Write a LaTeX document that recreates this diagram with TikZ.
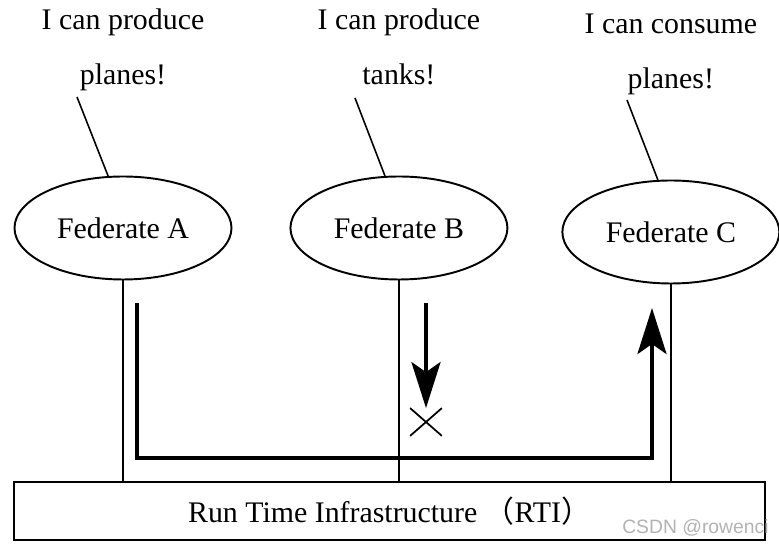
\documentclass[tikz,border=0pt]{standalone}
\usepackage{fontspec}
\setmainfont{Liberation Serif}
\newfontfamily\cjkfont{Noto Sans CJK SC}
\newfontfamily\markfont{Liberation Sans}
\usepackage{tikz}
\usetikzlibrary{positioning,shapes.geometric,shapes.misc,arrows.meta}

\begin{document}
\begin{tikzpicture}[
    >={Stealth[length=0.92cm,width=0.58cm,inset=0.2cm]},
    every node/.style={font=\fontsize{17}{31}\selectfont, align=center},
    fed/.style={draw, ellipse, line width=1.1pt, minimum width=4.34cm,
minimum height=2.06cm, inner sep=0pt},
    talk/.style={inner sep=2pt, text depth=3.7pt, node distance=1.62},
    link/.style={draw, line width=0.9pt},
    flow/.style={draw, line width=2.3pt}]

    \useasboundingbox (0,0) rectangle (15.58,11);

    \node[fed] (fedA) at (2.46,6.44) {Federate A};
    \node[fed, right=1.14 of fedA] (fedB) {Federate B};
    \node[fed, right=1.06 of fedB, yshift=-0.08cm] (fedC) {Federate C};

    \node[talk, above=of fedA] (sayA) {I can produce\\planes!};
    \node[talk, above=of fedB] (sayB) {I can produce\\tanks!};
    \node[talk, above=of fedC] (sayC) {I can consume\\planes!};

    \coordinate (tipA) at (1.54,9.06);
    \coordinate (tipB) at (7.10,9.04);
    \coordinate (tipC) at (12.54,9.00);
    \draw[link] (tipA) -- (fedA.106);
    \draw[link] (tipB) -- (fedB.105);
    \draw[link] (tipC) -- (fedC.104);

    \node[draw, line width=1.4pt, minimum width=15.02cm, minimum height=1.16cm,
inner sep=0pt] (rti) at (7.79,0.78) {Run Time Infrastructure {\cjkfont （}RTI{\cjkfont ）}};

    \draw[link] (fedA.south) -- (fedA.south |- rti.north);
    \draw[link] (fedB.south) -- (fedB.south |- rti.north);
    \draw[link] (fedC.south) -- (fedC.south |- rti.north);

    % planes go from A through the RTI to C
    \coordinate (flowA) at (2.74,4.94);
    \coordinate (flowTurn) at (2.74,1.84);
    \coordinate (flowC) at (13.04,4.84);
    \draw[flow, ->] (flowA) -- (flowTurn) -| (flowC);

    % tanks have nobody to take them
    \coordinate (blockB) at (8.52,4.94);
    \node[draw, cross out, line width=1pt, minimum width=0.6cm, minimum height=0.52cm,
inner sep=0pt] (nogo) at (8.52,2.56) {};
    \draw[flow, ->] (blockB) -- (nogo.north);

    \node[font=\markfont\fontsize{11}{13}\selectfont, text=gray!60, anchor=east,
inner sep=0pt] (mark) at (15.38,0.44) {CSDN @rowenci};

\end{tikzpicture}
\end{document}
